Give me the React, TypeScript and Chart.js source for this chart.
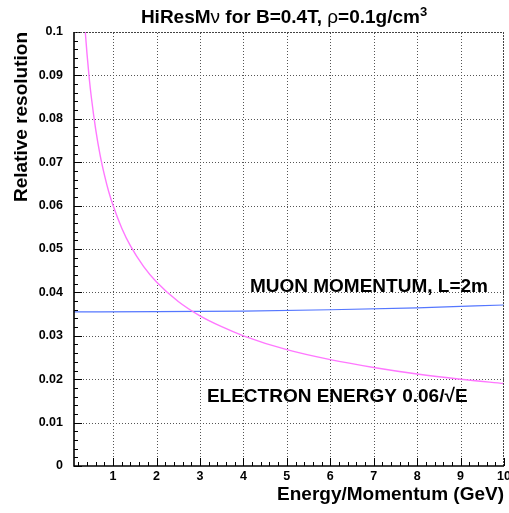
import React, { useEffect, useRef } from "react";
import { Chart, registerables } from "chart.js";

Chart.register(...registerables);

// ---- data ----
const ELECTRON_E = [0.36, 0.4, 0.45, 0.5, 0.6, 0.7, 0.8, 0.9, 1.0, 1.2, 1.4, 1.7, 2.0, 2.5, 3.0, 3.5, 4, 5, 6, 7, 8, 9, 10];
const ELECTRON_RES = [0.1, 0.0949, 0.0894, 0.0849, 0.0775, 0.0717, 0.0671, 0.0632, 0.06, 0.0548, 0.0507, 0.046, 0.0424, 0.0379, 0.0346, 0.0321, 0.03, 0.0268, 0.0245, 0.0227, 0.0212, 0.02, 0.019];
const MUON_P = [0.1, 2, 4, 6, 8, 10];
const MUON_RES = [0.0355, 0.03555, 0.0357, 0.036, 0.03645, 0.0371];

const X_TICKS = [1, 2, 3, 4, 5, 6, 7, 8, 9, 10];
const X_TICK_LABELS = ["1", "2", "3", "4", "5", "6", "7", "8", "9", "10"];
const Y_TICKS = [0, 0.01, 0.02, 0.03, 0.04, 0.05, 0.06, 0.07, 0.08, 0.09, 0.1];
const Y_TICK_LABELS = ["0", "0.01", "0.02", "0.03", "0.04", "0.05", "0.06", "0.07", "0.08", "0.09", "0.1"];

const X_MIN = 0.1;
const X_MAX = 10;
const Y_MIN = 0;
const Y_MAX = 0.1;

const Y_TITLE = "Relative resolution";
const X_TITLE = "Energy/Momentum (GeV)";
const MUON_LABEL = "MUON MOMENTUM, L=2m";
const ELECTRON_LABEL = "ELECTRON ENERGY 0.06/\u221AE";

const FONT = "'Liberation Sans', Arial, Helvetica, sans-serif";

const overlayPlugin = {
  id: "rootOverlay",
  beforeDatasetsDraw(chart: any) {
    const ctx = chart.ctx as CanvasRenderingContext2D;
    const xs = chart.scales.x;
    const ys = chart.scales.y;
    const { left, right, top, bottom } = chart.chartArea;
    ctx.save();
    ctx.strokeStyle = "#555";
    ctx.lineWidth = 1;
    ctx.setLineDash([1, 2]);
    ctx.beginPath();
    for (const v of X_TICKS) {
      const px = Math.round(xs.getPixelForValue(v)) + 0.5;
      if (px >= right - 1) continue;
      ctx.moveTo(px, bottom);
      ctx.lineTo(px, top);
    }
    for (const v of Y_TICKS) {
      const py = Math.round(ys.getPixelForValue(v)) + 0.5;
      if (py <= top + 1 || py >= bottom - 1) continue;
      ctx.moveTo(left, py);
      ctx.lineTo(right, py);
    }
    ctx.stroke();
    ctx.restore();
  },
  afterDraw(chart: any) {
    const ctx = chart.ctx as CanvasRenderingContext2D;
    const xs = chart.scales.x;
    const ys = chart.scales.y;
    const { left, right, top, bottom } = chart.chartArea;
    ctx.save();

    // minor / major ticks on left and bottom axes
    ctx.strokeStyle = "#000";
    ctx.lineWidth = 1;
    ctx.beginPath();
    for (let i = 0; i <= 50; i++) {
      const v = i * 0.002;
      const py = Math.round(ys.getPixelForValue(v)) + 0.5;
      const len = i % 5 === 0 ? 8 : 4;
      ctx.moveTo(left, py);
      ctx.lineTo(left + len, py);
    }
    for (let i = 1; i <= 50; i++) {
      const v = i * 0.2;
      if (v < X_MIN) continue;
      const px = Math.round(xs.getPixelForValue(v)) + 0.5;
      const len = i % 5 === 0 ? 8 : 4;
      ctx.moveTo(px, bottom);
      ctx.lineTo(px, bottom - len);
    }
    ctx.stroke();

    // frame
    ctx.strokeStyle = "#444";
    ctx.lineWidth = 1;
    ctx.setLineDash([2, 1]);
    ctx.beginPath();
    ctx.moveTo(left, top + 0.5);
    ctx.lineTo(right, top + 0.5);
    ctx.moveTo(right - 0.5, top);
    ctx.lineTo(right - 0.5, bottom);
    ctx.stroke();
    ctx.setLineDash([]);
    ctx.strokeStyle = "#000";
    ctx.lineWidth = 1.6;
    ctx.beginPath();
    ctx.moveTo(left, top);
    ctx.lineTo(left, bottom);
    ctx.lineTo(right, bottom);
    ctx.stroke();

    // annotations
    ctx.fillStyle = "#000";
    ctx.font = `bold 19px ${FONT}`;
    ctx.textAlign = "left";
    ctx.textBaseline = "alphabetic";
    ctx.fillText(MUON_LABEL, xs.getPixelForValue(4.15), ys.getPixelForValue(0.04));
    ctx.fillText(ELECTRON_LABEL, xs.getPixelForValue(3.16), ys.getPixelForValue(0.0148));

    // title with greek letters and superscript
    const parts: [string, string, number][] = [
      ["HiResM", `bold 19px ${FONT}`, 0],
      ["\u03BD", `19px ${FONT}`, 0],
      [" for B=0.4T, ", `bold 19px ${FONT}`, 0],
      ["\u03C1", `19px ${FONT}`, 0],
      ["=0.1g/cm", `bold 19px ${FONT}`, 0],
      ["3", `bold 13px ${FONT}`, -7],
    ];
    let total = 0;
    for (const [t, f] of parts) {
      ctx.font = f;
      total += ctx.measureText(t).width;
    }
    let x = 284 - total / 2;
    const base = 23;
    for (const [t, f, dy] of parts) {
      ctx.font = f;
      ctx.fillText(t, x, base + dy);
      x += ctx.measureText(t).width;
    }
    ctx.restore();
  },
};

export default function App() {
  const ref = useRef<HTMLCanvasElement | null>(null);
  useEffect(() => {
    if (!ref.current) return;
    const chart = new Chart(ref.current, {
      type: "line",
      data: {
        datasets: [
          {
            label: "electron",
            data: ELECTRON_E.map((e, i) => ({ x: e, y: ELECTRON_RES[i] })),
            borderColor: "#ff77ff",
            borderWidth: 1.4,
            pointRadius: 0,
            cubicInterpolationMode: "monotone",
            fill: false,
          },
          {
            label: "muon",
            data: MUON_P.map((p, i) => ({ x: p, y: MUON_RES[i] })),
            borderColor: "#5577ff",
            borderWidth: 1.2,
            pointRadius: 0,
            cubicInterpolationMode: "monotone",
            fill: false,
          },
        ],
      },
      options: {
        animation: false,
        responsive: false,
        layout: { padding: { top: 32, right: 5, left: 0, bottom: 0 } },
        plugins: { legend: { display: false }, tooltip: { enabled: false }, title: { display: false } },
        scales: {
          x: {
            type: "linear",
            min: X_MIN,
            max: X_MAX,
            afterBuildTicks: (s: any) => {
              s.ticks = X_TICKS.map((v) => ({ value: v }));
            },
            afterFit: (s: any) => {
              s.height = 47;
              s.paddingLeft = 0;
              s.paddingRight = 0;
            },
            ticks: {
              autoSkip: false,
              maxRotation: 0,
              padding: 3,
              color: "#000",
              font: { family: FONT, size: 12.5, weight: "bold" },
              callback: (v: any) => {
                const i = X_TICKS.indexOf(Number(v));
                return i >= 0 ? X_TICK_LABELS[i] : "";
              },
            },
            grid: { display: false, drawTicks: false },
            border: { display: false },
            title: {
              display: true,
              text: X_TITLE,
              align: "end",
              color: "#000",
              font: { family: FONT, size: 19, weight: "bold" },
              padding: { top: 0, bottom: 6.6 },
            },
          },
          y: {
            type: "linear",
            min: Y_MIN,
            max: Y_MAX,
            afterBuildTicks: (s: any) => {
              s.ticks = Y_TICKS.map((v) => ({ value: v }));
            },
            afterFit: (s: any) => {
              s.width = 74;
              s.paddingTop = 0;
              s.paddingBottom = 0;
            },
            ticks: {
              autoSkip: false,
              padding: 11,
              color: "#000",
              font: { family: FONT, size: 12.5, weight: "bold" },
              callback: (v: any) => {
                const i = Y_TICKS.findIndex((t) => Math.abs(t - Number(v)) < 1e-9);
                return i >= 0 ? Y_TICK_LABELS[i] : "";
              },
            },
            grid: { display: false, drawTicks: false },
            border: { display: false },
            title: {
              display: true,
              text: Y_TITLE,
              align: "end",
              color: "#000",
              font: { family: FONT, size: 19, weight: "bold" },
              padding: { top: 10, bottom: 0 },
            },
          },
        },
      } as any,
      plugins: [overlayPlugin],
    });
    return () => chart.destroy();
  }, []);
  return (
    <div style={{ position: "absolute", left: 0, top: 0, width: 509, height: 513, background: "#fff" }}>
      <canvas ref={ref} width={509} height={513} style={{ display: "block" }} />
    </div>
  );
}
